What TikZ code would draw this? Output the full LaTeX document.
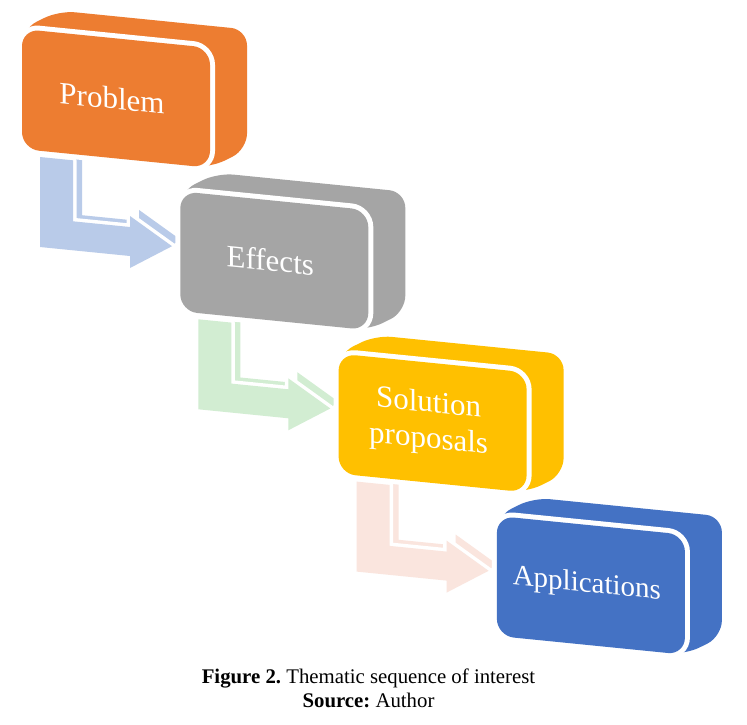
\documentclass[tikz,border=0pt]{standalone}
\usepackage{fontspec}
\setmainfont{Liberation Serif}
\frenchspacing
\definecolor{cOrange}{HTML}{ED7D31}
\definecolor{cGray}{HTML}{A5A5A5}
\definecolor{cGold}{HTML}{FFC000}
\definecolor{cBlue}{HTML}{4472C4}
\definecolor{aBlue}{RGB}{185,203,233}
\definecolor{aGreen}{RGB}{210,237,210}
\definecolor{aPink}{RGB}{250,229,222}
\tikzset{
  boxtext/.style={text=white, transform shape, align=center, inner sep=0pt,
    font=\fontsize{31}{36}\selectfont},
  captext/.style={inner sep=0pt, font=\fontsize{20.8}{24}\selectfont},
  facegap/.style={draw=white, line width=10pt, rounded corners=17pt},
  arrowgap/.style={draw=white, line width=7pt, line join=round},
}
\newcommand{\tdbox}[5]{%
  \begin{scope}[shift={(#2,#3)}, yslant=-0.1]
    \fill[#4, rounded corners=16pt] (0,120) -- (0,0) -- (37,-22) -- (225,-22) -- (225,98) -- (188,120) -- cycle;
    \draw[facegap] (0,0) rectangle (188,120);
    \fill[#4, rounded corners=17pt] (0,0) rectangle (188,120);
    \node[boxtext] (#1) at (90,60) {#5};
  \end{scope}}
\newcommand{\tdarrow}[3]{%
  \begin{scope}[shift={(#1,#2)}, yslant=-0.1]
    \fill[#3, shift={(9,-7)}] (0,0) -- (33,0) -- (33,61) -- (90,61) -- (90,50) -- (132,76) -- (90,102) -- (90,90) -- (0,90) -- cycle;
    \draw[arrowgap] (0,0) -- (33,0) -- (33,61) -- (90,61) -- (90,50) -- (132,76) -- (90,102) -- (90,90) -- (0,90) -- cycle;
    \fill[#3] (0,0) -- (33,0) -- (33,61) -- (90,61) -- (90,50) -- (132,76) -- (90,102) -- (90,90) -- (0,90) -- cycle;
  \end{scope}}
\begin{document}
\begin{tikzpicture}[x=1pt, y=-1pt]
  \useasboundingbox[fill=white] (0,0) rectangle (747,725);
  % arrows (behind boxes)
  \tdarrow{40}{157}{aBlue}
  \tdarrow{198.3}{319.3}{aGreen}
  \tdarrow{356.6}{481.6}{aPink}
  % boxes
  \tdbox{problem}{22}{29}{cOrange}{Problem}
  \tdbox{effects}{180.3}{191.3}{cGray}{Effects}
  \tdbox{solution}{338.6}{353.6}{cGold}{Solution\\proposals}
  \tdbox{applications}{496.9}{515.9}{cBlue}{\fontsize{29}{32}\selectfont Applications}
  % caption
  \node[captext, anchor=base] (cap1) at (368.5,683) {\textbf{Figure 2.} Thematic sequence of interest};
  \node[captext, anchor=base] (cap2) at (368.5,707) {\textbf{Source:} Author};
\end{tikzpicture}
\end{document}
